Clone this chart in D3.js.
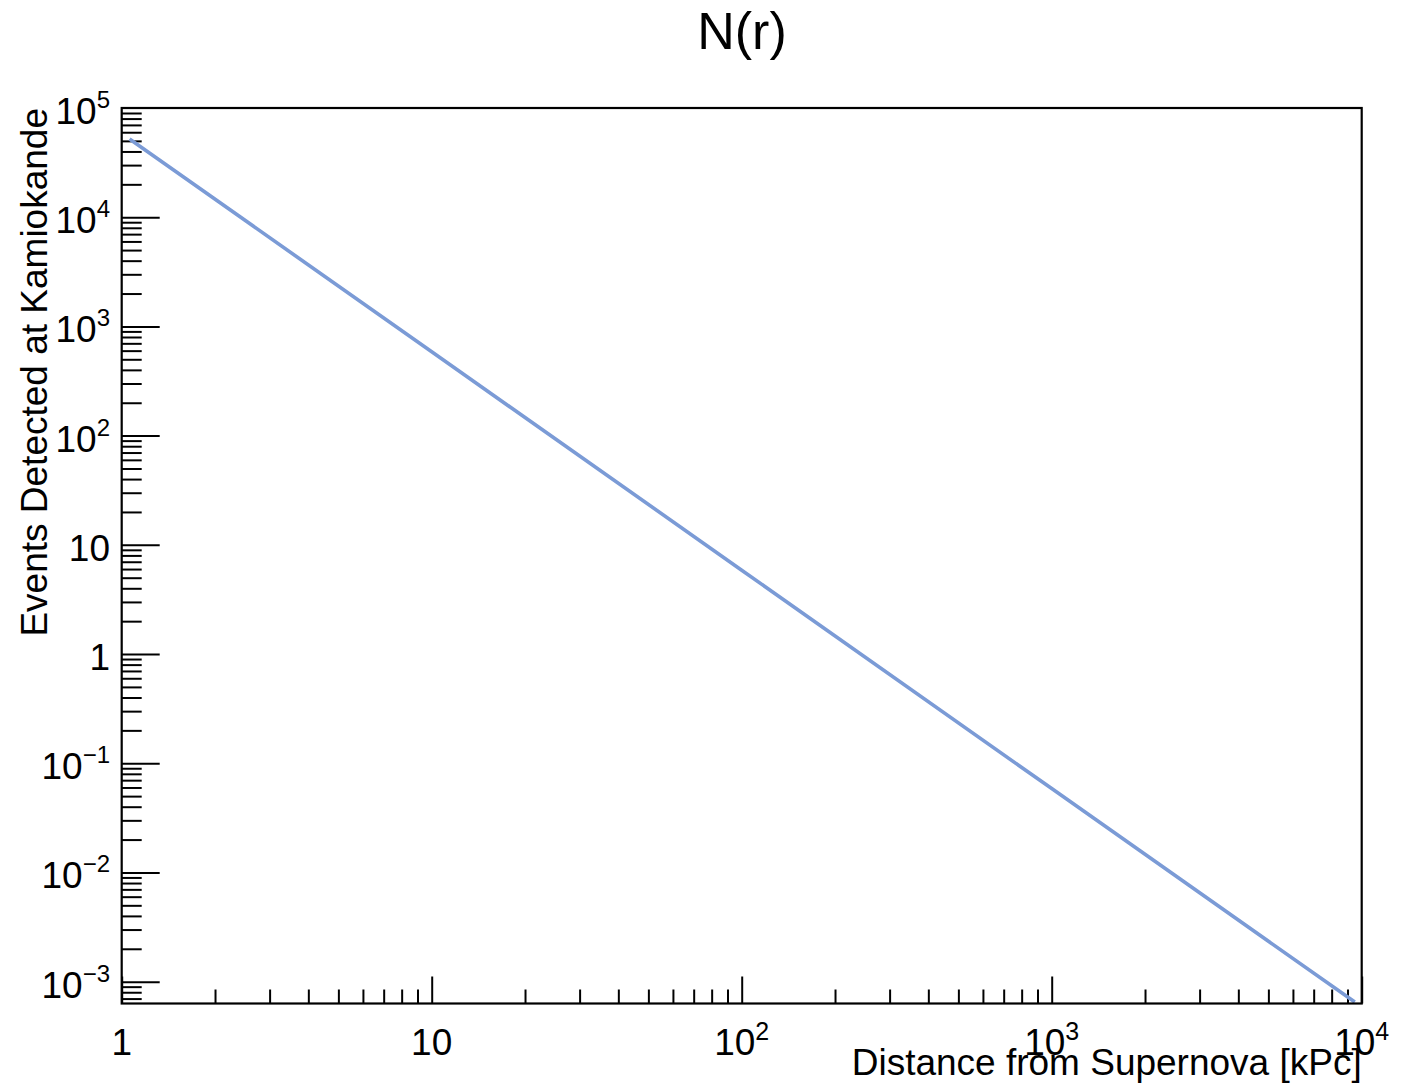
<!DOCTYPE html>
<html>
<head>
<meta charset="utf-8">
<script src="https://cdn.jsdelivr.net/npm/d3@7"></script>
<style>
  body { margin: 0; background: #fff; }
  svg { display: block; font-family: "Liberation Sans", Arial, sans-serif; }
</style>
</head>
<body>
<div id="chart"></div>
<script>
// values: N(r) falls as 1/r^2
var distance = [1.06, 10, 100, 1000, 9500];
var events = [52000, 586, 5.86, 0.0586, 0.00065];

var xMajor = [1, 10, 100, 1000, 10000];
var xLabels = [['1', ''], ['10', ''], ['10', '2'], ['10', '3'], ['10', '4']];
var yMajor = [1e-3, 1e-2, 1e-1, 1, 10, 100, 1e3, 1e4, 1e5];
var yLabels = [['10', '\u22123'], ['10', '\u22122'], ['10', '\u22121'], ['1', ''], ['10', ''],
               ['10', '2'], ['10', '3'], ['10', '4'], ['10', '5']];

var width = 1415, height = 1083;
// plot frame edges (window.top is reserved, so use other names)
var fLeft = 121.7, fRight = 1361.7, fTop = 108, fBottom = 1003.5;

var svg = d3.select('#chart').append('svg')
    .attr('width', width)
    .attr('height', height);

var x = d3.scaleLog().domain([1, 1e4]).range([fLeft, fRight]);
var y = d3.scaleLog().domain([Math.pow(10, -3.2), 1e5]).range([fBottom, fTop]);

// minor tick values: 2..9 in each decade, within domain
function minors(scale) {
    var d = scale.domain(), out = [];
    for (var e = -4; e <= 5; e++) {
        for (var m = 2; m <= 9; m++) {
            var v = m * Math.pow(10, e);
            if (v > d[0] && v < d[1]) out.push(v);
        }
    }
    return out;
}

// clip for the curve
svg.append('defs').append('clipPath').attr('id', 'frame')
    .append('rect')
    .attr('x', fLeft).attr('y', fTop)
    .attr('width', fRight - fLeft).attr('height', fBottom - fTop);

// x axis ticks (pointing up, inside)
svg.append('g')
    .attr('transform', 'translate(0,' + fBottom + ')')
    .call(d3.axisTop(x).tickValues(minors(x)).tickSize(14).tickFormat(''))
    .call(function(g) { g.select('.domain').remove(); })
    .selectAll('line').attr('stroke', '#000').attr('stroke-width', 2);
svg.append('g')
    .attr('transform', 'translate(0,' + fBottom + ')')
    .call(d3.axisTop(x).tickValues(xMajor).tickSize(27).tickFormat(''))
    .call(function(g) { g.select('.domain').remove(); })
    .selectAll('line').attr('stroke', '#000').attr('stroke-width', 2);

// y axis ticks (pointing right, inside)
svg.append('g')
    .attr('transform', 'translate(' + fLeft + ',0)')
    .call(d3.axisRight(y).tickValues(minors(y)).tickSize(20).tickFormat(''))
    .call(function(g) { g.select('.domain').remove(); })
    .selectAll('line').attr('stroke', '#000').attr('stroke-width', 2);
svg.append('g')
    .attr('transform', 'translate(' + fLeft + ',0)')
    .call(d3.axisRight(y).tickValues(yMajor.filter(function(v) { return v < 1e5; })).tickSize(38).tickFormat(''))
    .call(function(g) { g.select('.domain').remove(); })
    .selectAll('line').attr('stroke', '#000').attr('stroke-width', 2);

// x tick labels
var xl = svg.append('g').attr('font-size', 37).attr('fill', '#000');
xMajor.forEach(function(v, i) {
    var t = xl.append('text')
        .attr('x', x(v))
        .attr('y', 1055)
        .attr('text-anchor', 'middle');
    t.append('tspan').text(xLabels[i][0]);
    if (xLabels[i][1]) {
        t.append('tspan').attr('font-size', 25).attr('dy', -15).text(xLabels[i][1]);
    }
});

// y tick labels
var yl = svg.append('g').attr('font-size', 37).attr('fill', '#000');
yMajor.forEach(function(v, i) {
    var t = yl.append('text')
        .attr('x', 110)
        .attr('y', y(v) + 16)
        .attr('text-anchor', 'end');
    t.append('tspan').text(yLabels[i][0]);
    if (yLabels[i][1]) {
        t.append('tspan').attr('font-size', 24).attr('dy', -16).text(yLabels[i][1]);
    }
});

// curve
var line = d3.line()
    .x(function(d, i) { return x(distance[i]); })
    .y(function(d, i) { return y(events[i]); });

svg.append('path')
    .datum(events)
    .attr('clip-path', 'url(#frame)')
    .attr('fill', 'none')
    .attr('stroke', '#7b9bd6')
    .attr('stroke-width', 3.6)
    .attr('d', line);

// frame
svg.append('rect')
    .attr('x', fLeft).attr('y', fTop)
    .attr('width', fRight - fLeft).attr('height', fBottom - fTop)
    .attr('fill', 'none')
    .attr('stroke', '#000')
    .attr('stroke-width', 2.2);

// titles
svg.append('text')
    .attr('x', 742)
    .attr('y', 49)
    .attr('text-anchor', 'middle')
    .attr('font-size', 52)
    .text('N(r)');

svg.append('text')
    .attr('x', fRight)
    .attr('y', 1075)
    .attr('text-anchor', 'end')
    .attr('font-size', 37)
    .text('Distance from Supernova [kPc]');

svg.append('text')
    .attr('transform', 'translate(47,' + fTop + ') rotate(-90)')
    .attr('text-anchor', 'end')
    .attr('font-size', 37)
    .text('Events Detected at Kamiokande');
</script>
</body>
</html>
